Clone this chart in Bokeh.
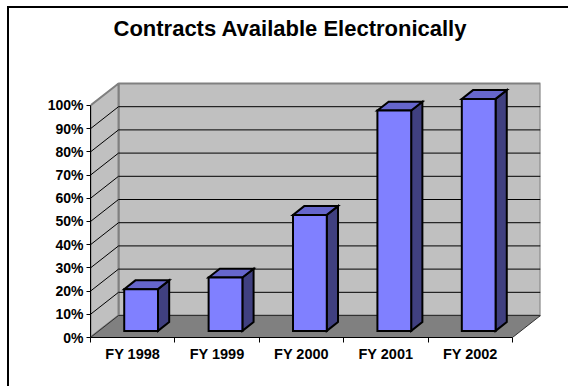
from bokeh.plotting import figure
from bokeh.models import Range1d, FixedTicker, PrintfTickFormatter
from bokeh.embed import file_html
from bokeh.resources import INLINE

# ---- data ----
categories = ["FY 1998", "FY 1999", "FY 2000", "FY 2001", "FY 2002"]
values = [18, 23, 50, 95, 100]
y_ticks = [0, 10, 20, 30, 40, 50, 60, 70, 80, 90, 100]
title_text = "Contracts Available Electronically"

# ---- geometry / style ----
W, H = 568, 386
FL, FR, FT, FB = 90, 540, 45, 337          # frame edges in pixels
WALL_TOP = 83                              # pixel row of the back wall top
N = len(categories)
YMAX = y_ticks[-1]
DX = 0.332        # depth offset, category units
DY = 9.47         # depth offset, percent units
GAP = 0.3         # gap each side of a bar within a category
BW = 1 - 2 * GAP  # bar width
D0, D1 = 0.3, 0.7 # bar depth span (fraction of depth)
FONT = "Liberation Sans"

XR = (0, N + DX)
YR = (0, (YMAX + DY) * (FB - FT) / (FB - WALL_TOP))

p = figure(width=W, height=H, x_range=Range1d(*XR), y_range=Range1d(*YR),
           output_backend="svg", toolbar_location=None,
           min_border_left=FL, min_border_right=W - FR,
           min_border_top=FT, min_border_bottom=H - FB)
p.outline_line_color = None
p.grid.visible = False
p.background_fill_color = "white"
p.border_fill_alpha = 0
# chart-area border (top and left edges visible in the window)
p.styles = {
    "background": "linear-gradient(#000,#000) 7px 6px / 2px 100% no-repeat, "
                  "linear-gradient(#000,#000) 7px 6px / 100% 2px no-repeat, #fff"
}

# title
p.title.text = title_text
p.title.text_font = FONT
p.title.text_font_style = "bold"
p.title.text_font_size = "22px"
p.title.text_color = "black"
p.title.align = "left"
p.title.offset = 23
p.title.standoff = 10

# walls
wall_gray = "#C0C0C0"
edge_gray = "#808080"
p.patch([DX, N + DX, N + DX, DX], [DY, DY, YMAX + DY, YMAX + DY],
        fill_color=wall_gray, line_color=edge_gray, line_width=2)
p.patch([0, DX, DX, 0], [0, DY, YMAX + DY, YMAX],
        fill_color=wall_gray, line_color=edge_gray, line_width=2)

# gridlines on walls
inner = y_ticks[1:-1]
p.multi_line(xs=[[0, DX, N + DX] for t in inner],
             ys=[[t, t + DY, t + DY] for t in inner],
             line_color="black", line_width=1)

# floor
p.patch([0, N, N + DX, DX], [0, 0, DY, DY],
        fill_color="#808080", line_color="#303030", line_width=1)

# bars
fx, fy, tx, ty, sx, sy = [], [], [], [], [], []
b = D0 * DY
for i, v in enumerate(values):
    x0 = i + GAP + D0 * DX
    x1 = x0 + BW
    ddx = (D1 - D0) * DX
    ddy = (D1 - D0) * DY
    fx.append([x0, x1, x1, x0]); fy.append([b, b, b + v, b + v])
    tx.append([x0, x1, x1 + ddx, x0 + ddx]); ty.append([b + v, b + v, b + v + ddy, b + v + ddy])
    sx.append([x1, x1 + ddx, x1 + ddx, x1]); sy.append([b, b + ddy, b + v + ddy, b + v])

bar_kw = dict(line_color="black", line_width=2, line_join="miter")
p.patches(sx, sy, fill_color="#404080", **bar_kw)
p.patches(tx, ty, fill_color="#6666CC", **bar_kw)
p.patches(fx, fy, fill_color="#8080FF", **bar_kw)

# y axis
ya = p.yaxis[0]
ya.ticker = FixedTicker(ticks=y_ticks)
ya.formatter = PrintfTickFormatter(format="%d%%")
ya.bounds = (0, YMAX)
ya.axis_line_color = "black"
ya.major_tick_out = 4
ya.major_tick_in = 0
ya.minor_tick_line_color = None
ya.major_label_standoff = 3
ya.major_label_text_font = FONT
ya.major_label_text_font_style = "bold"
ya.major_label_text_font_size = "14px"
ya.major_label_text_color = "black"

# x axis
xa = p.xaxis[0]
xa.ticker = FixedTicker(ticks=[i + 0.5 for i in range(N)], minor_ticks=list(range(N + 1)))
xa.major_label_overrides = {i + 0.5: c for i, c in enumerate(categories)}
xa.bounds = (0, N)
xa.axis_line_color = "black"
xa.major_tick_line_color = None
xa.minor_tick_line_color = "black"
xa.minor_tick_out = 5
xa.minor_tick_in = 0
xa.major_label_standoff = 2
xa.major_label_text_font = FONT
xa.major_label_text_font_style = "bold"
xa.major_label_text_font_size = "14.5px"
xa.major_label_text_color = "black"

open("out.html", "w").write(file_html(p, INLINE))
